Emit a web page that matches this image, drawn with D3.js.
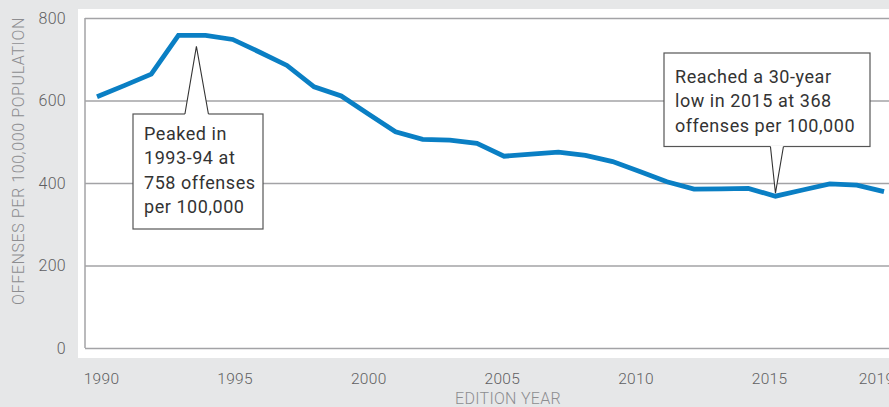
<!DOCTYPE html>
<html>
<head>
<meta charset="utf-8">
<script src="https://cdn.jsdelivr.net/npm/d3@7/dist/d3.min.js"></script>
<style>
  html, body { margin: 0; padding: 0; background: #e6e7e8; }
  svg { display: block; }
  text { font-family: Roboto, "Open Sans", sans-serif; }
</style>
</head>
<body>
<svg id="chart" width="889" height="407"></svg>
<script>
const years = [1990,1991,1992,1993,1994,1995,1996,1997,1998,1999,2000,2001,2002,2003,2004,2005,2006,2007,2008,2009,2010,2011,2012,2013,2014,2015,2016,2017,2018,2019];
const offenses = [609,636,664,758,758,748,717,685,633,611,567,524,506,504,496,465,470,475,467,452,428,403,385,386,387,368,383,398,395,379];
const yTicks = [0,200,400,600,800];
const xTicks = [1990,1995,2000,2005,2010,2015,2019];
const yTitle = "OFFENSES PER 100,000 POPULATION";
const xTitle = "EDITION YEAR";
const notes = [
  { year: 1993.7, value: 758, lines: ["Peaked in", "1993-94 at", "758 offenses", "per 100,000"] },
  { year: 2015, value: 368, lines: ["Reached a 30-year", "low in 2015 at 368", "offenses per 100,000"] }
];

const svg = d3.select("#chart");
const W = 889, H = 407;
svg.append("rect").attr("width", W).attr("height", H).attr("fill", "#e6e7e8");
svg.append("rect").attr("x", 78).attr("y", 9).attr("width", W - 78).attr("height", 349).attr("fill", "#ffffff");

const x = d3.scaleLinear().domain([1990, 2019]).range([97, 884]);
const xLabel = d3.scaleLinear().domain([1990, 2019]).range([101, 876]);
const y = d3.scaleLinear().domain([0, 800]).range([348, 18]);

// gridlines
const grid = svg.append("g").call(d3.axisLeft(y).tickValues(yTicks).tickSize(-(W - 85)).tickFormat(""))
  .attr("transform", "translate(85,0)");
grid.select(".domain").remove();
grid.selectAll("line").attr("stroke", "#a3a3a6").attr("stroke-width", 1.5);

// left axis line
svg.append("line").attr("x1", 85).attr("x2", 85).attr("y1", y(800)).attr("y2", y(0))
  .attr("stroke", "#a3a3a6").attr("stroke-width", 1.5);

// y tick labels
const yAxis = svg.append("g").attr("transform", "translate(66,0)")
  .call(d3.axisLeft(y).tickValues(yTicks).tickSize(0).tickPadding(0));
yAxis.select(".domain").remove();
yAxis.selectAll("text").attr("font-size", 16).attr("fill", "#5f5f62").attr("font-family", "Roboto, sans-serif")
  .attr("font-weight", 300).attr("letter-spacing", 0.3);

// x tick labels
const xAxis = svg.append("g").attr("transform", "translate(0,373)")
  .call(d3.axisBottom(xLabel).tickValues(xTicks).tickFormat(d3.format("d")).tickSize(0).tickPadding(0));
xAxis.select(".domain").remove();
xAxis.selectAll("text").attr("font-size", 15.5).attr("fill", "#5f5f62").attr("font-family", "Roboto, sans-serif")
  .attr("font-weight", 300).attr("letter-spacing", 0.3);

// axis titles
svg.append("text").attr("transform", "translate(24,161) rotate(-90)")
  .attr("text-anchor", "middle").attr("font-size", 16).attr("fill", "#8d8d90").attr("font-weight", 300)
  .attr("letter-spacing", 0.6).text(yTitle);
svg.append("text").attr("x", 508).attr("y", 403.5).attr("text-anchor", "middle")
  .attr("font-size", 16).attr("fill", "#8d8d90").attr("font-weight", 300).attr("letter-spacing", 0.3).text(xTitle);

// line
const line = d3.line().x((d, i) => x(years[i])).y(d => y(d));
svg.append("path").datum(offenses).attr("d", line).attr("fill", "none")
  .attr("stroke", "#0a7fc4").attr("stroke-width", 4.8).attr("stroke-linejoin", "miter");

// annotations
function callout(note, box, tip, baseW, textX, firstBase, lh) {
  const g = svg.append("g");
  const tx = tip[0], ty = tip[1];
  const pointsUp = ty < box.y;
  const by = pointsUp ? box.y : box.y + box.h;
  const bx0 = tx - baseW[0], bx1 = tx + baseW[1];
  g.append("rect").attr("x", box.x).attr("y", box.y).attr("width", box.w).attr("height", box.h)
    .attr("fill", "#fff").attr("stroke", "#555").attr("stroke-width", 1.2);
  g.append("line").attr("x1", bx0).attr("x2", bx1).attr("y1", by).attr("y2", by)
    .attr("stroke", "#fff").attr("stroke-width", 2);
  g.append("path").attr("d", `M${bx0},${by}L${tx},${ty}L${bx1},${by}`)
    .attr("fill", "#fff").attr("stroke", "#333").attr("stroke-width", 1.1);
  note.lines.forEach((t, i) => {
    g.append("text").attr("x", textX).attr("y", firstBase + i * lh)
      .attr("font-size", 18).attr("letter-spacing", 0.55).attr("fill", "#333").text(t);
  });
}
const n1 = notes[0], n2 = notes[1];
callout(n1, {x: 133, y: 114, w: 130, h: 115}, [x(n1.year) - 1, y(n1.value) + 11], [11.5, 12], 144, 139.5, 24.5);
callout(n2, {x: 664, y: 53, w: 206, h: 93.5}, [x(n2.year), y(n2.value) - 3], [5, 8], 675, 83, 24.3);
</script>
</body>
</html>
